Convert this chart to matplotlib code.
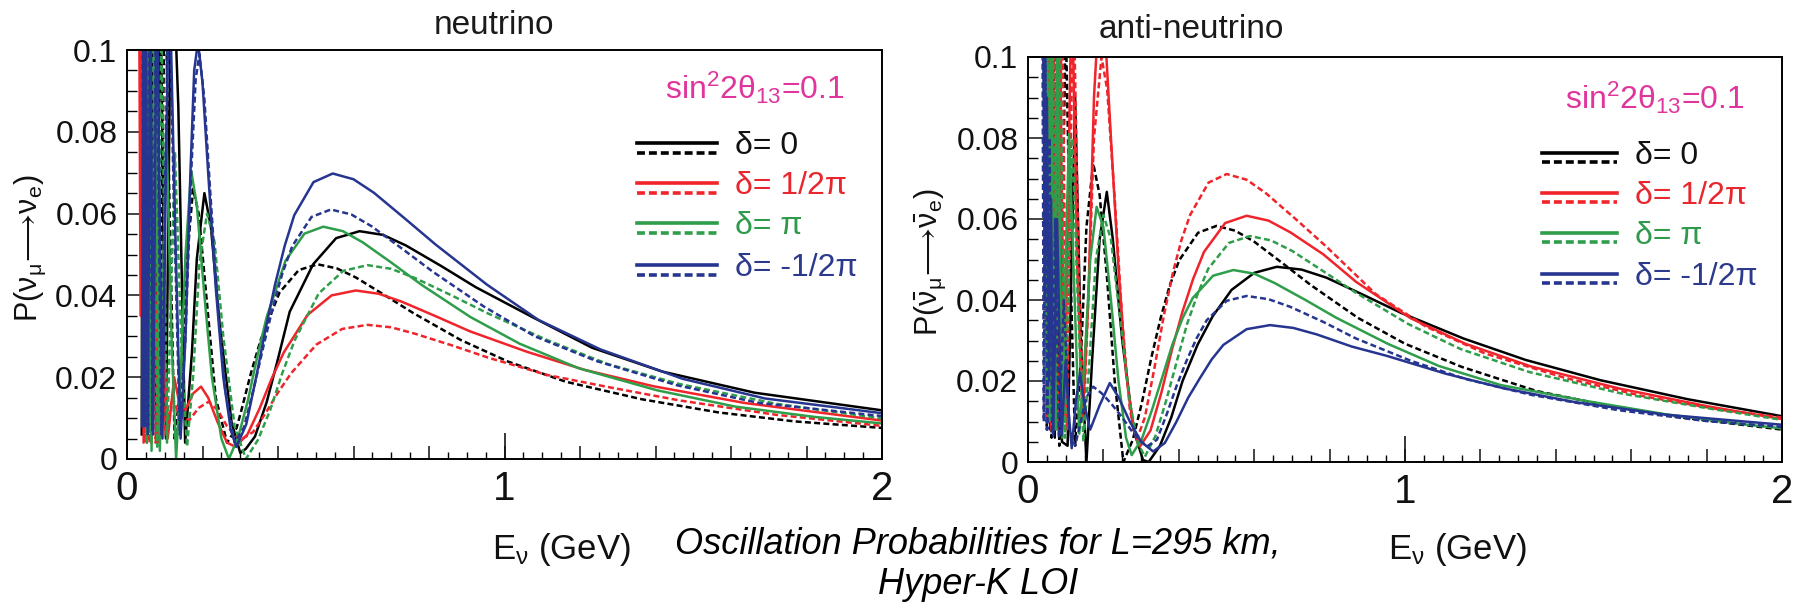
import numpy as np
import matplotlib
matplotlib.use("Agg")
import matplotlib.pyplot as plt
from matplotlib.ticker import FixedLocator, MultipleLocator, FixedFormatter

matplotlib.rcParams.update({"font.family": ["Liberation Sans", "DejaVu Sans"]})
matplotlib.rcParams.update({"mathtext.fontset": "custom"})
matplotlib.rcParams.update({"mathtext.rm": "Liberation Sans"})
matplotlib.rcParams.update({"mathtext.it": "Liberation Sans"})
matplotlib.rcParams.update({"mathtext.bf": "Liberation Sans:bold"})

# ---------------- neutrino panel, E in GeV, P(numu -> nue)
nu_d0_solid_E = [0.039, 0.041, 0.044, 0.047, 0.051, 0.056, 0.062, 0.068, 0.077, 0.088, 0.103, 0.114, 0.123, 0.136,
                 0.154, 0.172, 0.185, 0.205, 0.222, 0.246, 0.277, 0.300, 0.315, 0.339, 0.370, 0.400, 0.431, 0.493,
                 0.554, 0.616, 0.678, 0.739, 0.832, 0.924, 1.078, 1.232, 1.417, 1.663, 2.0]
nu_d0_solid_P = [0.006, 0.12, 0.010, 0.12, 0.008, 0.12, 0.007, 0.12, 0.006, 0.12, 0.005, 0.097, 0.12, 0.086,
                 0.004, 0.026, 0.049, 0.065, 0.057, 0.0325, 0.009, 0.0015, 0.0025, 0.0055, 0.0139, 0.0245, 0.036, 0.0476,
                 0.054, 0.0557, 0.0548, 0.0522, 0.0472, 0.042, 0.0345, 0.0272, 0.0214, 0.0162, 0.0119]

nu_d0_dashed_E = [0.039, 0.042, 0.046, 0.0505, 0.056, 0.063, 0.072, 0.084, 0.101, 0.113, 0.126, 0.145, 0.160, 0.175,
                  0.190, 0.210, 0.235, 0.265, 0.290, 0.303, 0.328, 0.354, 0.404, 0.455, 0.505, 0.556, 0.606, 0.682,
                  0.758, 0.884, 1.010, 1.162, 1.364, 1.566, 1.768, 2.0]
nu_d0_dashed_P = [0.12, 0.010, 0.12, 0.008, 0.12, 0.007, 0.12, 0.006, 0.12, 0.060, 0.005, 0.020, 0.050, 0.066,
                  0.060, 0.040, 0.015, 0.004, 0.0075, 0.0119, 0.0209, 0.0291, 0.0407, 0.0462, 0.0476, 0.0466, 0.0444, 0.0401,
                  0.0357, 0.0291, 0.0238, 0.0189, 0.0146, 0.0114, 0.0092, 0.0076]

nu_dp2_solid_E = [0.032, 0.036, 0.040, 0.044, 0.048, 0.053, 0.058, 0.064, 0.072, 0.082, 0.095, 0.108, 0.125, 0.140,
                  0.155, 0.175, 0.196, 0.215, 0.240, 0.265, 0.287, 0.319, 0.351, 0.383, 0.415, 0.478, 0.542, 0.606,
                  0.667, 0.727, 0.818, 0.909, 1.060, 1.212, 1.394, 1.636, 2.0]
nu_dp2_solid_P = [0.12, 0.035, 0.12, 0.004, 0.10, 0.004, 0.08, 0.004, 0.06, 0.004, 0.035, 0.005, 0.020, 0.013,
                  0.012, 0.016, 0.0177, 0.015, 0.009, 0.004, 0.003, 0.006, 0.0123, 0.0196, 0.026, 0.0352, 0.040, 0.0412,
                  0.0404, 0.0385, 0.0349, 0.0312, 0.0262, 0.0218, 0.0178, 0.0137, 0.0094]

nu_dp2_dashed_E = [0.034, 0.038, 0.043, 0.048, 0.054, 0.060, 0.067, 0.076, 0.088, 0.102, 0.120, 0.140, 0.165, 0.190,
                   0.216, 0.240, 0.265, 0.300, 0.334, 0.367, 0.401, 0.435, 0.502, 0.570, 0.637, 0.700, 0.764, 0.860,
                   0.956, 1.115, 1.274, 1.465, 1.720, 2.0]
nu_dp2_dashed_P = [0.12, 0.040, 0.12, 0.004, 0.11, 0.004, 0.07, 0.004, 0.04, 0.006, 0.015, 0.0105, 0.0095, 0.0125,
                   0.014, 0.012, 0.008, 0.0046, 0.0066, 0.0112, 0.0164, 0.021, 0.028, 0.0318, 0.0328, 0.0322, 0.0306, 0.0278,
                   0.0248, 0.0205, 0.0176, 0.0143, 0.0108, 0.0081]

nu_dpi_solid_E = [0.040, 0.043, 0.047, 0.052, 0.058, 0.065, 0.074, 0.087, 0.104, 0.118, 0.130, 0.142, 0.155, 0.170,
                  0.185, 0.205, 0.225, 0.250, 0.270, 0.295, 0.320, 0.345, 0.370, 0.420, 0.470, 0.520, 0.572, 0.624,
                  0.702, 0.780, 0.910, 1.040, 1.196, 1.404, 1.612, 1.820, 2.0]
nu_dpi_solid_P = [0.12, 0.015, 0.12, 0.004, 0.12, 0.002, 0.11, 0.002, 0.082, 0.030, 0.0, 0.020, 0.050, 0.0705,
                  0.062, 0.040, 0.020, 0.005, 0.0, 0.0055, 0.0142, 0.025, 0.0347, 0.0485, 0.0551, 0.0568, 0.0557, 0.053,
                  0.0479, 0.0426, 0.0347, 0.0282, 0.0222, 0.0168, 0.0128, 0.0103, 0.0087]

nu_dpi_dashed_E = [0.042, 0.045, 0.049, 0.053, 0.058, 0.064, 0.071, 0.080, 0.091, 0.106, 0.127, 0.145, 0.159, 0.175,
                   0.192, 0.212, 0.232, 0.255, 0.285, 0.315, 0.347, 0.379, 0.411, 0.444, 0.508, 0.573, 0.637, 0.700,
                   0.764, 0.860, 0.956, 1.115, 1.274, 1.465, 1.720, 2.0]
nu_dpi_dashed_P = [0.12, 0.008, 0.12, 0.006, 0.12, 0.004, 0.12, 0.003, 0.11, 0.004, 0.075, 0.025, 0.003, 0.020,
                   0.048, 0.060, 0.053, 0.030, 0.008, 0.0, 0.0047, 0.0119, 0.0209, 0.029, 0.0405, 0.046, 0.0474, 0.0465,
                   0.0442, 0.040, 0.0356, 0.029, 0.0232, 0.0183, 0.0135, 0.0099]

nu_dm2_solid_E = [0.040, 0.043, 0.046, 0.050, 0.055, 0.062, 0.069, 0.079, 0.094, 0.103, 0.112, 0.128, 0.142, 0.155,
                  0.168, 0.178, 0.188, 0.200, 0.215, 0.235, 0.255, 0.275, 0.290, 0.316, 0.341, 0.367, 0.392, 0.418,
                  0.443, 0.494, 0.545, 0.600, 0.654, 0.736, 0.818, 0.954, 1.090, 1.254, 1.472, 1.690, 2.0]
nu_dm2_solid_P = [0.008, 0.12, 0.008, 0.12, 0.006, 0.12, 0.006, 0.12, 0.005, 0.070, 0.12, 0.055, 0.005, 0.030,
                  0.070, 0.095, 0.102, 0.092, 0.070, 0.042, 0.020, 0.007, 0.003, 0.0085, 0.0195, 0.0317, 0.0426, 0.0522,
                  0.0596, 0.0677, 0.0698, 0.0684, 0.0651, 0.0588, 0.0524, 0.0426, 0.0340, 0.0268, 0.0196, 0.0148, 0.0112]

nu_dm2_dashed_E = [0.041, 0.044, 0.048, 0.053, 0.060, 0.067, 0.077, 0.091, 0.110, 0.125, 0.140, 0.155, 0.170, 0.182,
                   0.192, 0.205, 0.220, 0.240, 0.260, 0.285, 0.310, 0.336, 0.362, 0.387, 0.412, 0.438, 0.489, 0.540,
                   0.594, 0.648, 0.729, 0.810, 0.945, 1.080, 1.242, 1.458, 1.674, 2.0]
nu_dm2_dashed_P = [0.12, 0.010, 0.12, 0.008, 0.12, 0.007, 0.12, 0.006, 0.12, 0.060, 0.006, 0.030, 0.070, 0.093,
                   0.099, 0.088, 0.066, 0.038, 0.017, 0.004, 0.0078, 0.0173, 0.0278, 0.0373, 0.0455, 0.0521, 0.0592, 0.061,
                   0.0598, 0.0569, 0.0514, 0.0458, 0.0373, 0.0300, 0.0240, 0.0180, 0.0137, 0.0105]

# ---------------- anti-neutrino panel
anu_d0_solid_E = [0.047, 0.050, 0.054, 0.059, 0.064, 0.071, 0.079, 0.090, 0.105, 0.125, 0.140, 0.155, 0.170, 0.190,
                  0.209, 0.225, 0.250, 0.280, 0.305, 0.320, 0.350, 0.380, 0.410, 0.450, 0.490, 0.540, 0.600, 0.660,
                  0.726, 0.792, 0.891, 0.990, 1.155, 1.320, 1.518, 1.750, 2.0]
anu_d0_solid_P = [0.12, 0.010, 0.12, 0.008, 0.12, 0.006, 0.12, 0.005, 0.004, 0.090, 0.030, 0.0, 0.025, 0.055,
                  0.0667, 0.055, 0.030, 0.008, 0.0005, 0.0, 0.004, 0.011, 0.020, 0.029, 0.036, 0.0425, 0.0467, 0.0482,
                  0.0475, 0.0455, 0.0412, 0.0368, 0.0305, 0.0252, 0.0202, 0.0155, 0.0113]

anu_d0_dashed_E = [0.044, 0.050, 0.056, 0.0625, 0.071, 0.083, 0.100, 0.112, 0.125, 0.140, 0.155, 0.173, 0.190, 0.210,
                   0.230, 0.253, 0.278, 0.302, 0.327, 0.352, 0.376, 0.401, 0.451, 0.500, 0.550, 0.600, 0.675, 0.750, 0.875,
                   1.000, 1.150, 1.350, 1.550, 1.750, 2.0]
anu_d0_dashed_P = [0.12, 0.008, 0.12, 0.006, 0.12, 0.004, 0.11, 0.050, 0.004, 0.025, 0.058, 0.0737, 0.066, 0.045,
                   0.020, 0.0, 0.0055, 0.0146, 0.0257, 0.0356, 0.0436, 0.0498, 0.0566, 0.0583, 0.0571, 0.0544, 0.0491, 0.0437,
                   0.0356, 0.0292, 0.0235, 0.0175, 0.0137, 0.0108, 0.0080]

anu_dp2_solid_E = [0.045, 0.048, 0.053, 0.058, 0.064, 0.0725, 0.083, 0.097, 0.116, 0.130, 0.145, 0.160, 0.175, 0.190,
                   0.205, 0.220, 0.240, 0.260, 0.280, 0.297, 0.325, 0.354, 0.382, 0.410, 0.438, 0.467, 0.523, 0.580, 0.638,
                   0.696, 0.783, 0.870, 1.015, 1.160, 1.334, 1.566, 1.800, 2.0]
anu_dp2_solid_P = [0.12, 0.012, 0.12, 0.010, 0.12, 0.010, 0.12, 0.010, 0.12, 0.050, 0.010, 0.040, 0.090, 0.115,
                   0.105, 0.080, 0.048, 0.022, 0.008, 0.0038, 0.0078, 0.0172, 0.0278, 0.0372, 0.0452, 0.0519, 0.059, 0.0608,
                   0.0596, 0.0567, 0.0513, 0.0445, 0.0355, 0.0292, 0.0236, 0.0182, 0.0138, 0.0106]

anu_dp2_dashed_E = [0.045, 0.049, 0.055, 0.061, 0.069, 0.078, 0.090, 0.103, 0.120, 0.135, 0.148, 0.160, 0.175, 0.195,
                    0.210, 0.230, 0.250, 0.270, 0.288, 0.310, 0.335, 0.360, 0.385, 0.407, 0.430, 0.479, 0.527, 0.580, 0.632,
                    0.711, 0.790, 0.922, 1.054, 1.212, 1.423, 1.634, 1.845, 2.0]
anu_dp2_dashed_P = [0.12, 0.010, 0.12, 0.008, 0.12, 0.008, 0.12, 0.008, 0.12, 0.045, 0.012, 0.040, 0.080, 0.100,
                    0.092, 0.065, 0.035, 0.013, 0.0054, 0.011, 0.023, 0.036, 0.047, 0.0548, 0.061, 0.069, 0.0711, 0.0697,
                    0.0663, 0.0599, 0.0533, 0.0415, 0.0335, 0.0268, 0.0208, 0.0162, 0.0128, 0.0110]

anu_dpi_solid_E = [0.047, 0.050, 0.0545, 0.061, 0.068, 0.078, 0.091, 0.100, 0.109, 0.120, 0.136, 0.150, 0.165, 0.182,
                   0.200, 0.220, 0.240, 0.260, 0.275, 0.302, 0.329, 0.356, 0.383, 0.410, 0.437, 0.491, 0.545, 0.600, 0.654,
                   0.736, 0.818, 0.954, 1.090, 1.254, 1.472, 1.690, 1.900, 2.0]
anu_dpi_solid_P = [0.020, 0.12, 0.010, 0.12, 0.008, 0.11, 0.006, 0.050, 0.081, 0.050, 0.007, 0.025, 0.050, 0.063,
                   0.058, 0.040, 0.020, 0.006, 0.0017, 0.0057, 0.0129, 0.0209, 0.029, 0.0355, 0.0405, 0.046, 0.0474, 0.0465,
                   0.0442, 0.040, 0.0356, 0.0292, 0.0237, 0.019, 0.0152, 0.0118, 0.0093, 0.0083]

anu_dpi_dashed_E = [0.044, 0.049, 0.0535, 0.059, 0.065, 0.074, 0.084, 0.098, 0.108, 0.118, 0.130, 0.147, 0.163, 0.180,
                    0.200, 0.220, 0.245, 0.270, 0.290, 0.310, 0.338, 0.366, 0.394, 0.422, 0.450, 0.478, 0.533, 0.589, 0.645,
                    0.701, 0.785, 0.868, 1.008, 1.147, 1.330, 1.575, 1.820, 2.0]
anu_dpi_dashed_P = [0.12, 0.012, 0.12, 0.010, 0.12, 0.008, 0.12, 0.006, 0.050, 0.080, 0.045, 0.005, 0.025, 0.050,
                    0.061, 0.055, 0.035, 0.015, 0.005, 0.0013, 0.0064, 0.015, 0.0246, 0.0341, 0.0415, 0.0477, 0.0541, 0.0558,
                    0.0547, 0.0521, 0.047, 0.0419, 0.0341, 0.0279, 0.0222, 0.0169, 0.0130, 0.0104]

anu_dm2_solid_E = [0.038, 0.041, 0.045, 0.050, 0.056, 0.061, 0.067, 0.077, 0.089, 0.100, 0.108, 0.116, 0.127, 0.138,
                   0.150, 0.165, 0.190, 0.217, 0.240, 0.270, 0.300, 0.332, 0.363, 0.394, 0.425, 0.456, 0.487, 0.518, 0.580,
                   0.642, 0.704, 0.766, 0.859, 0.952, 1.108, 1.262, 1.450, 1.690, 2.0]
anu_dm2_solid_P = [0.12, 0.095, 0.040, 0.090, 0.020, 0.065, 0.0065, 0.060, 0.0065, 0.025, 0.012, 0.0034, 0.015, 0.022,
                   0.014, 0.008, 0.014, 0.0195, 0.016, 0.010, 0.005, 0.0026, 0.0047, 0.010, 0.0159, 0.0207, 0.0253, 0.0289,
                   0.0328, 0.0338, 0.0331, 0.0315, 0.0285, 0.0262, 0.0218, 0.0182, 0.0148, 0.0117, 0.0092]

anu_dm2_dashed_E = [0.038, 0.042, 0.046, 0.051, 0.057, 0.064, 0.072, 0.082, 0.095, 0.110, 0.125, 0.140, 0.155, 0.173,
                    0.195, 0.220, 0.250, 0.280, 0.315, 0.342, 0.368, 0.395, 0.421, 0.447, 0.474, 0.527, 0.580, 0.638, 0.696,
                    0.783, 0.870, 1.015, 1.160, 1.334, 1.566, 1.800, 2.0]
anu_dm2_dashed_P = [0.12, 0.010, 0.10, 0.008, 0.08, 0.007, 0.06, 0.006, 0.040, 0.008, 0.004, 0.010, 0.016, 0.0186,
                    0.017, 0.0145, 0.011, 0.007, 0.0038, 0.0055, 0.0118, 0.019, 0.0251, 0.0305, 0.035, 0.0398, 0.041, 0.0402,
                    0.0383, 0.0346, 0.0305, 0.025, 0.0205, 0.0166, 0.0128, 0.0101, 0.0087]

delta_labels = ["\u03b4= 0", "\u03b4= 1/2\u03c0", "\u03b4= \u03c0", "\u03b4= -1/2\u03c0"]
line_colors = ["#000000", "#f0242b", "#2f9e4a", "#26358f"]
text_colors = ["#111111", "#e8262e", "#2f9a4c", "#2b3a8c"]
theta_label = "sin$^{2}$2\u03b8$_{13}$=0.1"
pink = "#e0359c"

nu_curves = [(nu_d0_solid_E, nu_d0_solid_P, nu_d0_dashed_E, nu_d0_dashed_P),
             (nu_dp2_solid_E, nu_dp2_solid_P, nu_dp2_dashed_E, nu_dp2_dashed_P),
             (nu_dpi_solid_E, nu_dpi_solid_P, nu_dpi_dashed_E, nu_dpi_dashed_P),
             (nu_dm2_solid_E, nu_dm2_solid_P, nu_dm2_dashed_E, nu_dm2_dashed_P)]
anu_curves = [(anu_d0_solid_E, anu_d0_solid_P, anu_d0_dashed_E, anu_d0_dashed_P),
              (anu_dp2_solid_E, anu_dp2_solid_P, anu_dp2_dashed_E, anu_dp2_dashed_P),
              (anu_dpi_solid_E, anu_dpi_solid_P, anu_dpi_dashed_E, anu_dpi_dashed_P),
              (anu_dm2_solid_E, anu_dm2_solid_P, anu_dm2_dashed_E, anu_dm2_dashed_P)]

W, H = 1794.0, 602.0
fig = plt.figure(figsize=(W / 100, H / 100), dpi=100)
ax1 = fig.add_axes([127 / W, 1 - 459 / H, 755 / W, 409 / H])
ax2 = fig.add_axes([1028 / W, 1 - 462 / H, 754 / W, 405 / H])

lw = 1.8
dash = (0, (2.4, 1.3))


def style_axes(ax):
    ax.set_xlim(0, 2)
    ax.set_ylim(0, 0.1)
    ax.xaxis.set_major_locator(FixedLocator(np.arange(0, 2.01, 0.2)))
    ax.xaxis.set_major_formatter(FixedFormatter(["0", "", "", "", "", "1", "", "", "", "", "2"]))
    ax.xaxis.set_minor_locator(MultipleLocator(0.05))
    ax.yaxis.set_major_locator(FixedLocator([0, 0.02, 0.04, 0.06, 0.08, 0.1]))
    ax.yaxis.set_major_formatter(FixedFormatter(["0", "0.02", "0.04", "0.06", "0.08", "0.1"]))
    ax.yaxis.set_minor_locator(MultipleLocator(0.005))
    ax.tick_params(axis="x", which="major", direction="in", length=9.5, width=1.1, labelsize=29, pad=8,
                   top=False, colors="#111111")
    ax.tick_params(axis="x", which="minor", direction="in", length=5, width=1.0, top=False)
    ax.tick_params(axis="y", which="major", direction="in", length=14, width=1.1, labelsize=23, pad=7,
                   right=False, colors="#111111")
    ax.tick_params(axis="y", which="minor", direction="in", length=7, width=1.0, right=False)
    for s in ax.spines.values():
        s.set_linewidth(1.4)
    # long ticks at the integer energies
    sec = ax.secondary_xaxis("bottom")
    sec.set_xticks([0, 1, 2])
    sec.tick_params(direction="in", length=19, width=1.1, labelbottom=False)
    sec.spines["bottom"].set_visible(False)


def draw_panel(ax, curves, sin_xy, leg_x, leg_rows, leg_gap, text_x):
    for (Es, Ps, Ed, Pd), c in zip(curves, line_colors):
        ax.plot(Ed, Pd, color=c, lw=lw, linestyle=dash)
        ax.plot(Es, Ps, color=c, lw=lw)
    ax.text(sin_xy[0], sin_xy[1], theta_label, transform=ax.transAxes, color=pink, fontsize=23,
            ha="left", va="center")
    for i in range(4):
        y = leg_rows[i]
        ax.plot(leg_x, [y, y], transform=ax.transAxes, color=line_colors[i], lw=2.6, clip_on=False)
        ax.plot(leg_x, [y - leg_gap, y - leg_gap], transform=ax.transAxes, color=line_colors[i], lw=2.6,
                linestyle=(0, (2.2, 1.1)), clip_on=False)
        ax.text(text_x, y - 0.008, delta_labels[i], transform=ax.transAxes, color=text_colors[i], fontsize=23,
                ha="left", va="center")


style_axes(ax1)
style_axes(ax2)

draw_panel(ax1, nu_curves, (0.712, 0.907), [0.675, 0.781], [0.773, 0.675, 0.577, 0.474], 0.025, 0.805)
draw_panel(ax2, anu_curves, (0.712, 0.899), [0.682, 0.781], [0.763, 0.664, 0.565, 0.464], 0.023, 0.805)

# axis titles
fig.text(30 / W, 1 - 248 / H, r"P($\mathrm{\nu}_{\mu}\!\longrightarrow\!\mathrm{\nu}_{e}$)", fontsize=22,
         rotation=90, ha="center", va="center", color="#111111")
fig.text(930 / W, 1 - 262 / H, r"P($\bar{\nu}_{\mu}\!\longrightarrow\!\bar{\nu}_{e}$)", fontsize=22,
         rotation=90, ha="center", va="center", color="#111111")

ax1.set_xlabel(r"E$_{\nu}$ (GeV)", fontsize=25, color="#111111")
ax1.xaxis.set_label_coords(0.576, -0.175)
ax2.set_xlabel(r"E$_{\nu}$ (GeV)", fontsize=25, color="#111111")
ax2.xaxis.set_label_coords(0.57, -0.17)

fig.text(494 / W, 1 - 25 / H, "neutrino", fontsize=24, ha="center", va="center", color="#1a1a1a")
fig.text(1191 / W, 1 - 30 / H, "anti-neutrino", fontsize=24, ha="center", va="center", color="#1a1a1a")

fig.text(978 / W, 1 - 544 / H, "Oscillation Probabilities for L=295 km,", fontsize=26, style="italic",
         ha="center", va="center")
fig.text(978 / W, 1 - 584 / H, "Hyper-K LOI", fontsize=26, style="italic", ha="center", va="center")

fig.savefig("out.png", dpi=100)
